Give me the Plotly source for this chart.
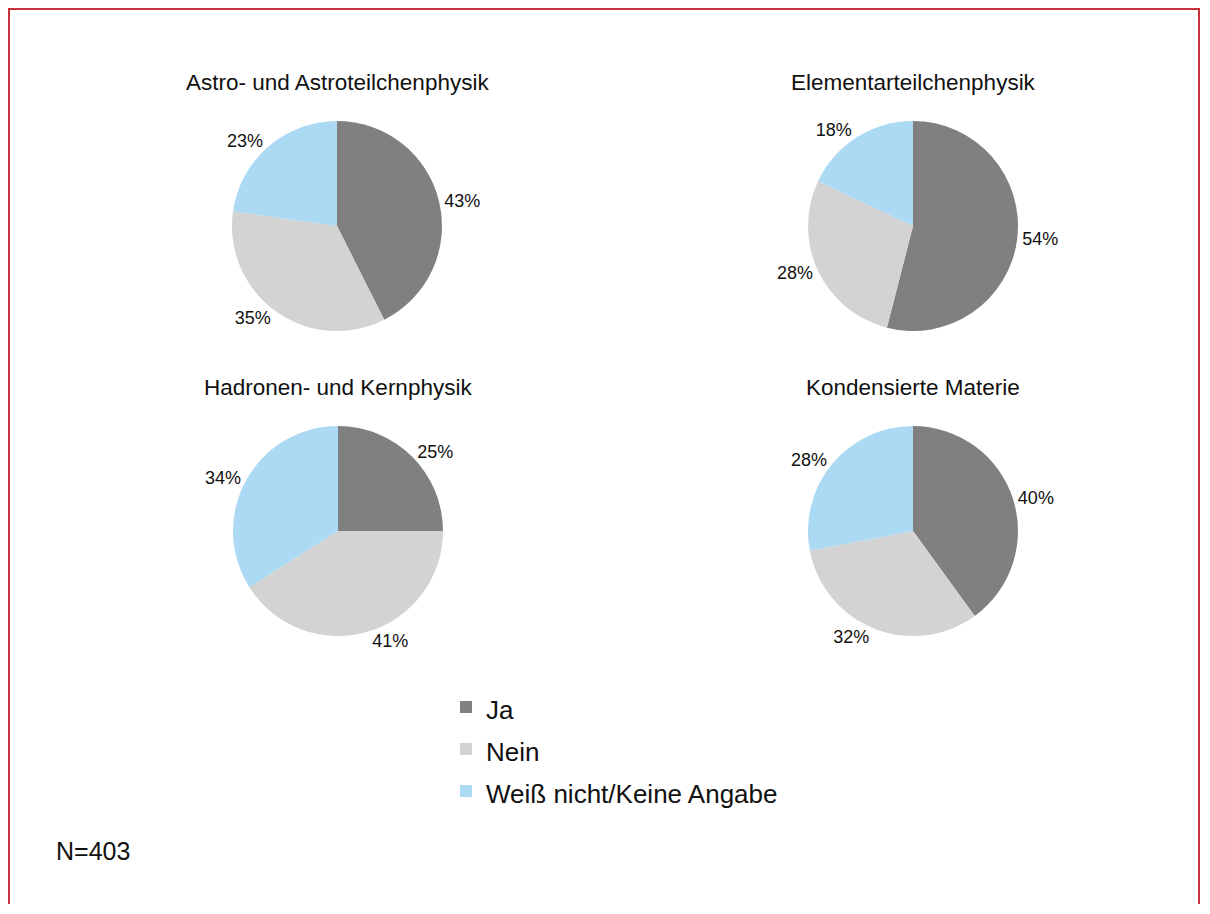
import plotly.graph_objects as go

categories = ["Ja", "Nein", "Weiß nicht/Keine Angabe"]
fields = ["Astro- und Astroteilchenphysik", "Elementarteilchenphysik",
          "Hadronen- und Kernphysik", "Kondensierte Materie"]
astro = [43, 35, 23]
elementar = [54, 28, 18]
hadronen = [25, 41, 34]
kondensiert = [40, 32, 28]
series = [astro, elementar, hadronen, kondensiert]
colors = ["#808080", "#d3d3d3", "#acd9f3"]
note = "N=403"

# the page body has an 8px margin; figure sized to fit the window without scrollbars
OFF = 8
W, H = 1192, 896
FONT = "Liberation Sans, Arial, Helvetica, sans-serif"


def px(x):
    return (x - OFF) / W


def py(y):
    return 1 - (y - OFF) / H


# pie centres (reference px) and radius
centres = [(337, 226), (913, 226), (338, 531), (913, 531)]
R = 105

fig = go.Figure()
legend_labels = [f'<span style="font-size:26px">{c}</span>' for c in categories]
for i, (vals, (cx, cy)) in enumerate(zip(series, centres)):
    fig.add_trace(go.Pie(
        labels=legend_labels,
        values=vals,
        sort=False,
        direction="clockwise",
        rotation=0,
        marker=dict(colors=colors, line=dict(width=0)),
        texttemplate="%{value}%",
        textposition="outside",
        textfont=dict(family=FONT, size=18, color="#111"),
        hoverinfo="value",
        showlegend=(i == 0),
        domain=dict(x=[px(cx - R), px(cx + R)],
                    y=[py(cy + R), py(cy - R)]),
        name=fields[i],
    ))
    fig.add_annotation(
        text=fields[i], x=px(cx), y=py(cy - 143),
        xref="paper", yref="paper", showarrow=False,
        xanchor="center", yanchor="middle",
        font=dict(family=FONT, size=22.5, color="#111"),
    )

fig.add_annotation(
    text=note, x=px(54), y=py(851), xref="paper", yref="paper",
    showarrow=False, xanchor="left", yanchor="middle",
    font=dict(family=FONT, size=25, color="#111"),
)

fig.add_shape(type="rect", xref="paper", yref="paper",
              x0=1 / W, x1=1 - 1 / W, y0=-0.05, y1=1 - 1 / H,
              line=dict(color="#c8323c", width=2), fillcolor="rgba(0,0,0,0)")

fig.update_layout(
    width=W, height=H,
    margin=dict(l=0, r=0, t=0, b=0),
    paper_bgcolor="white", plot_bgcolor="white",
    font=dict(family=FONT, color="#111"),
    legend=dict(x=px(446), y=py(681), xanchor="left", yanchor="top",
                font=dict(family=FONT, size=30, color="#111"),
                bgcolor="rgba(0,0,0,0)"),
)

fig.write_html("out.html")
